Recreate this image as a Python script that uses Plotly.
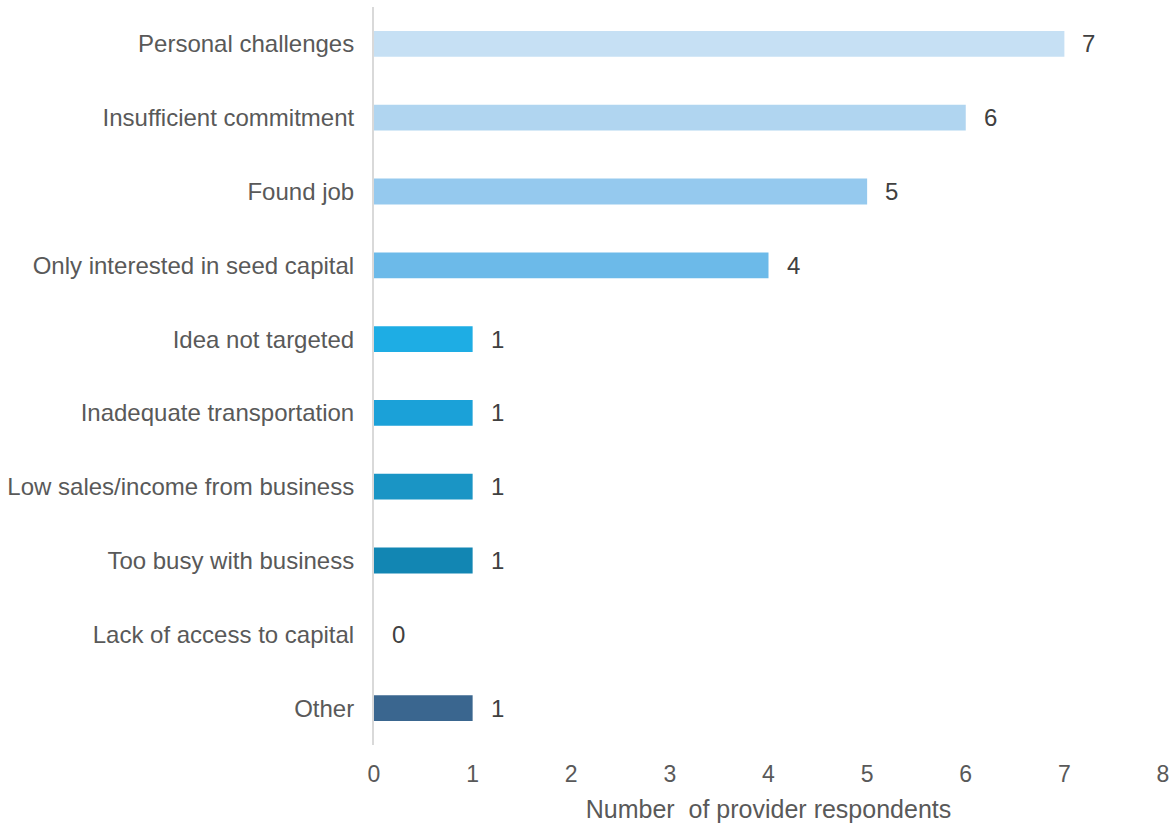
import plotly.graph_objects as go

categories = [
    "Personal challenges",
    "Insufficient commitment",
    "Found job",
    "Only interested in seed capital",
    "Idea not targeted",
    "Inadequate transportation",
    "Low sales/income from business",
    "Too busy with business",
    "Lack of access to capital",
    "Other",
]
counts = [7, 6, 5, 4, 1, 1, 1, 1, 0, 1]
bar_colors = [
    "#C6E0F4", "#B0D5F0", "#95C9EE", "#6CBAE9", "#1EADE4",
    "#1BA1D8", "#1A95C5", "#1286B3", "#1286B3", "#3A668F",
]
x_ticks = [0, 1, 2, 3, 4, 5, 6, 7, 8]

FONT = "Liberation Sans, Arial, sans-serif"
TEXT = "#595959"

fig = go.Figure(
    go.Bar(
        x=counts,
        y=categories,
        orientation="h",
        marker=dict(color=bar_colors, line=dict(width=0)),
        width=0.35,
        hoverinfo="x+y",
    )
)

# value labels just past the end of each bar
for cat, val in zip(categories, counts):
    fig.add_annotation(
        x=val, y=cat, text=str(val), showarrow=False,
        xanchor="left", yanchor="middle", xshift=16,
        font=dict(family=FONT, size=24, color="#404040"),
    )

fig.update_layout(
    width=1176, height=828,
    margin=dict(l=373, r=12, t=7, b=83),
    plot_bgcolor="white", paper_bgcolor="white",
    showlegend=False,
    font=dict(family=FONT, size=24, color=TEXT),
    bargap=0.65,
)
fig.update_xaxes(
    range=[0, 8], tickvals=x_ticks, showgrid=False, zeroline=False,
    showline=False, ticks="", ticklabelstandoff=13,
    tickfont=dict(size=23, color=TEXT),
    title=dict(text="Number\u00a0 of provider respondents",
               font=dict(size=25, color=TEXT), standoff=14),
)
fig.update_yaxes(
    categoryorder="array", categoryarray=categories, autorange="reversed",
    showgrid=False, zeroline=False, showline=True, linecolor="#D9D9D9",
    linewidth=2, ticks="", ticklabelstandoff=13,
    tickfont=dict(size=24, color=TEXT),
)

fig.write_html("out.html")
